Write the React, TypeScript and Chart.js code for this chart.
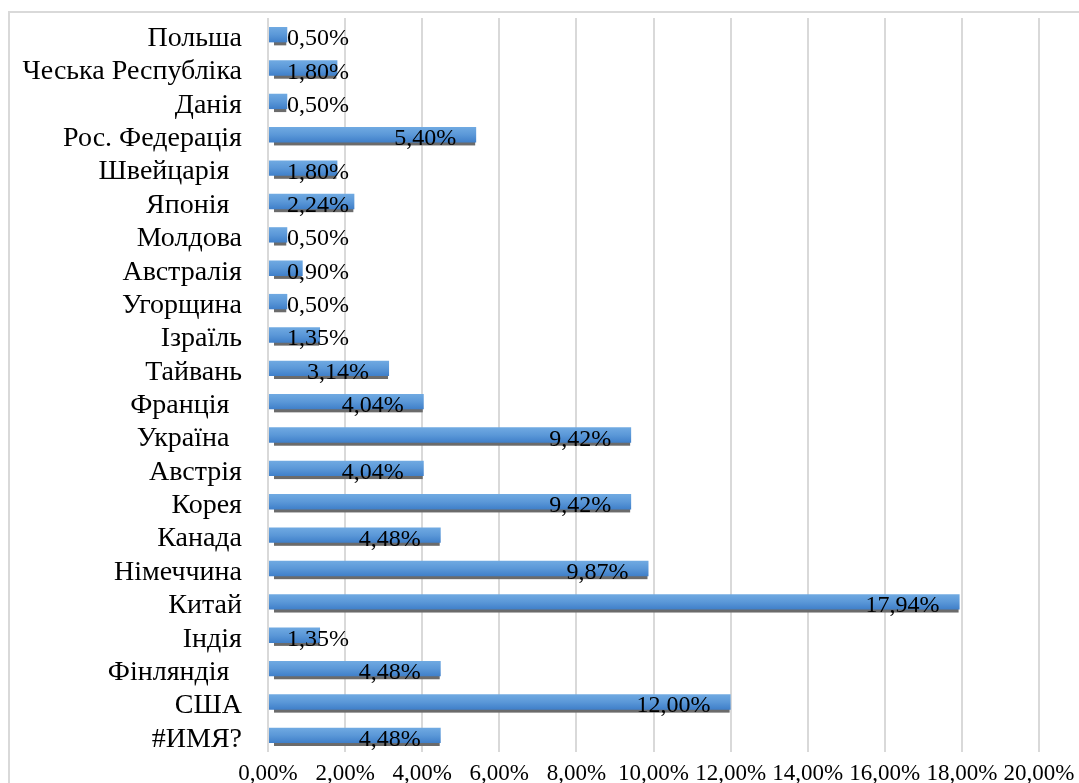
import React, { useEffect, useRef } from "react";
import { Chart, registerables } from "chart.js";

Chart.register(...registerables);

const categories: string[] = [
  "Польша",
  "Чеська Республіка",
  "Данія",
  "Рос. Федерація",
  "Швейцарія \u2009",
  "Японія \u2009",
  "Молдова",
  "Австралія",
  "Угорщина",
  "Ізраїль",
  "Тайвань",
  "Франція \u2009",
  "Україна \u2009",
  "Австрія",
  "Корея",
  "Канада",
  "Німеччина",
  "Китай",
  "Індія",
  "Фінляндія \u2009",
  "США",
  "#ИМЯ?",
];

const shares: number[] = [
  0.5, 1.8, 0.5, 5.4, 1.8, 2.24, 0.5, 0.9, 0.5, 1.35, 3.14, 4.04, 9.42, 4.04,
  9.42, 4.48, 9.87, 17.94, 1.35, 4.48, 12.0, 4.48,
];

const xMin = 0;
const xMax = 20;
const xStep = 2;

const FONT = "'Liberation Serif', 'Times New Roman', serif";

const fmt = (v: number) => v.toFixed(2).replace(".", ",") + "%";

const framePlugin = {
  id: "frame",
  beforeDraw(chart: any) {
    const ctx = chart.ctx;
    ctx.save();
    ctx.fillStyle = "#ffffff";
    ctx.fillRect(0, 0, chart.width, chart.height);
    ctx.strokeStyle = "#d9d9d9";
    ctx.lineWidth = 2;
    ctx.strokeRect(9, 12, chart.width + 50, chart.height + 50);
    ctx.restore();
  },
};

const barStylePlugin = {
  id: "barStyle",
  beforeDatasetsDraw(chart: any) {
    const ctx = chart.ctx;
    const meta = chart.getDatasetMeta(0);
    ctx.save();
    meta.data.forEach((el: any) => {
      const h = el.height;
      const top = el.y - h / 2;
      const left = Math.min(el.base, el.x);
      const right = Math.max(el.base, el.x);
      ctx.fillStyle = "#6b6b6b";
      const sw = right - left - 6;
      if (sw > 0) ctx.fillRect(left + 5, top + 3, sw, h);
      const g = ctx.createLinearGradient(0, top, 0, top + h);
      g.addColorStop(0, "#70aae2");
      g.addColorStop(0.5, "#5b98d8");
      g.addColorStop(1, "#3f7fc9");
      el.options = Object.assign({}, el.options, { backgroundColor: g });
    });
    ctx.restore();
  },
  afterDatasetsDraw(chart: any) {
    const ctx = chart.ctx;
    const meta = chart.getDatasetMeta(0);
    const xs = chart.scales.x;
    const zero = xs.getPixelForValue(0);
    ctx.save();
    ctx.font = `24px ${FONT}`;
    ctx.fillStyle = "#000000";
    ctx.textAlign = "right";
    ctx.textBaseline = "alphabetic";
    meta.data.forEach((el: any, i: number) => {
      const txt = fmt(shares[i]);
      const w = ctx.measureText(txt).width;
      const rightEdge = Math.max(el.x - 20, zero + 19 + w);
      ctx.fillText(txt, rightEdge, el.y + 10.5);
    });
    ctx.restore();
  },
};

export default function App() {
  const ref = useRef<HTMLCanvasElement>(null);

  useEffect(() => {
    if (!ref.current) return;
    const chart = new Chart(ref.current, {
      type: "bar",
      data: {
        labels: categories,
        datasets: [
          {
            data: shares,
            backgroundColor: "#5b9bd5",
            borderWidth: 0,
            barPercentage: 0.46,
            categoryPercentage: 1,
          },
        ],
      },
      plugins: [framePlugin, barStylePlugin],
      options: {
        indexAxis: "y",
        animation: false,
        responsive: false,
        layout: { padding: { top: 18, right: 40, left: 0, bottom: 0 } },
        plugins: {
          legend: { display: false },
          tooltip: { enabled: false },
        },
        scales: {
          x: {
            min: xMin,
            max: xMax,
            afterFit: (s: any) => {
              s.height = 31;
              s.paddingLeft = 0;
              s.paddingRight = 0;
            },
            ticks: {
              stepSize: xStep,
              padding: 8,
              color: "#000000",
              font: { family: FONT, size: 23 },
              maxRotation: 0,
              autoSkip: false,
              callback: (v: any) => fmt(Number(v)),
            },
            grid: {
              color: "#d9d9d9",
              lineWidth: 2,
              drawTicks: false,
            },
            border: { display: false },
          },
          y: {
            afterFit: (s: any) => {
              s.width = 268;
              s.paddingTop = 0;
              s.paddingBottom = 0;
            },
            ticks: {
              padding: 26,
              labelOffset: 4,
              color: "#000000",
              font: { family: FONT, size: 28 },
              autoSkip: false,
            },
            grid: { display: false, drawTicks: false },
            border: { display: false },
          },
        },
      },
    });
    return () => chart.destroy();
  }, []);

  return (
    <div style={{ position: "absolute", left: 0, top: 0, width: 1079, height: 783 }}>
      <canvas ref={ref} width={1079} height={783} style={{ display: "block" }} />
    </div>
  );
}
